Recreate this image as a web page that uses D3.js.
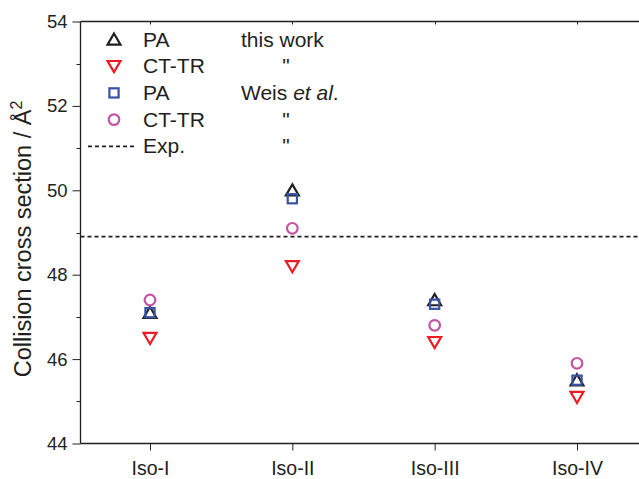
<!DOCTYPE html>
<html><head><meta charset="utf-8">
<script src="https://cdn.jsdelivr.net/npm/d3@7"></script>
<style>body{margin:0;background:#fff}svg{display:block}text{font-family:"Liberation Sans",Arial,sans-serif;fill:#231f20}</style>
</head><body><svg id="c" width="639" height="479"></svg>
<script>
const categories = ["Iso-I","Iso-II","Iso-III","Iso-IV"];
const paThisWork = [47.1, 50.0, 47.4, 45.5];
const ctTrThisWork = [46.5, 48.2, 46.4, 45.1];
const paWeis = [47.1, 49.8, 47.3, 45.5];
const ctTrWeis = [47.4, 49.1, 46.8, 45.9];
const expValue = 48.9;
const yTicks = [44, 46, 48, 50, 52, 54];
const yMinorTicks = [45, 47, 49, 51, 53];

const svg = d3.select("#c");
const L = 80.5, R = 645, T = 21.5, B = 443.5;
const x = d3.scalePoint().domain(categories).range([150, 577]);
const y = d3.scaleLinear().domain([44, 54]).range([B, T]);
const ink = "#231f20";
const FF = "Liberation Sans, Arial, sans-serif";

// frame top
svg.append("line").attr("x1", L).attr("x2", R).attr("y1", T).attr("y2", T).attr("stroke", ink).attr("stroke-width", 1.3);
svg.append("g").selectAll("line").data(categories).join("line")
  .attr("x1", d => Math.round(x(d)) + 0.5).attr("x2", d => Math.round(x(d)) + 0.5)
  .attr("y1", T).attr("y2", T + 3).attr("stroke", ink).attr("stroke-width", 1);

// left axis
const ya = svg.append("g").attr("transform", `translate(${L},0)`)
  .call(d3.axisLeft(y).tickValues(yTicks).tickSize(8).tickPadding(5).tickFormat(d3.format("d")));
ya.attr("font-size", 18.5).attr("font-family", FF);
ya.select(".domain").attr("stroke", ink).attr("stroke-width", 1.3).attr("d", `M0,${T}V${B}`);
ya.selectAll(".tick line").attr("stroke", ink);
ya.selectAll(".tick text").attr("fill", ink);
svg.append("g").selectAll("line").data(yMinorTicks).join("line")
  .attr("x1", L - 4).attr("x2", L).attr("y1", d => Math.round(y(d)) + 0.5).attr("y2", d => Math.round(y(d)) + 0.5)
  .attr("stroke", ink);

// bottom axis
const xa = svg.append("g").attr("transform", `translate(0,${B})`)
  .call(d3.axisBottom(x).tickSize(7).tickPadding(11));
xa.attr("font-size", 19.5).attr("font-family", FF);
xa.select(".domain").attr("stroke", ink).attr("stroke-width", 1.3).attr("d", `M${L},0H${R}`);
xa.selectAll(".tick line").attr("stroke", ink);
xa.selectAll(".tick text").attr("fill", ink);

// y title
const yt = svg.append("text").attr("transform", `translate(31,${239}) rotate(-90)`)
  .attr("text-anchor", "middle").attr("font-size", 23.5);
yt.append("tspan").text("Collision cross section / Å");
yt.append("tspan").attr("font-size", 16).attr("dy", -9).text("2");

// exp line
svg.append("line").attr("x1", L).attr("x2", R).attr("y1", y(expValue)).attr("y2", y(expValue))
  .attr("stroke", ink).attr("stroke-width", 1.8).attr("stroke-dasharray", "4,3");

const tri = d3.symbol().type(d3.symbolTriangle).size(72);

const series = [
  {vals: paThisWork, color: ink, kind: "up"},
  {vals: ctTrThisWork, color: "#ed1c24", kind: "down"},
  {vals: ctTrWeis, color: "#c355a4", kind: "circle"},
  {vals: paWeis, color: "#3953a4", kind: "square"}
];
function drawMarker(g, kind, color, cx, cy) {
  if (kind === "circle") {
    g.append("circle").attr("cx", cx).attr("cy", cy).attr("r", 5.3)
      .attr("fill", "none").attr("stroke", color).attr("stroke-width", 2.2);
  } else if (kind === "square") {
    g.append("rect").attr("x", cx - 4.6).attr("y", cy - 4.6).attr("width", 9.2).attr("height", 9.2)
      .attr("fill", "none").attr("stroke", color).attr("stroke-width", 2.2);
  } else {
    g.append("path").attr("d", tri()).attr("fill", "none").attr("stroke", color).attr("stroke-width", 2.2)
      .attr("transform", `translate(${cx},${cy + (kind === "up" ? 1.5 : -1.5)})` + (kind === "down" ? " rotate(180)" : ""));
  }
}
const mg = svg.append("g");
series.forEach(s => {
  categories.forEach((c, i) => drawMarker(mg, s.kind, s.color, x(c), y(s.vals[i])));
});

// legend
const legendNames = ["PA", "CT-TR", "PA", "CT-TR", "Exp."];
const legendSources = ["this work", "\"", "Weis", "\"", "\""];
const legendKinds = [["up", ink], ["down", "#ed1c24"], ["square", "#3953a4"], ["circle", "#c355a4"], ["line", ink]];
const lg = svg.append("g").attr("font-size", 21);
legendNames.forEach((name, i) => {
  const ly = 39.5 + i * 26.7;
  const [kind, color] = legendKinds[i];
  if (kind === "line") {
    lg.append("line").attr("x1", 88).attr("x2", 134).attr("y1", ly).attr("y2", ly)
      .attr("stroke", ink).attr("stroke-width", 1.8).attr("stroke-dasharray", "4,3");
  } else drawMarker(lg, kind, color, 114, ly);
  lg.append("text").attr("x", 143).attr("y", ly + 7).text(name);
  const src = legendSources[i];
  if (src === "Weis") {
    const t = lg.append("text").attr("x", 241).attr("y", ly + 7);
    t.append("tspan").text("Weis ");
    t.append("tspan").attr("font-style", "italic").text("et al");
    t.append("tspan").text(".");
  } else if (src === "\"") {
    lg.append("text").attr("x", 286).attr("y", ly + 7).attr("text-anchor", "middle").text(src);
  } else {
    lg.append("text").attr("x", 241).attr("y", ly + 7).text(src);
  }
});
</script></body></html>
